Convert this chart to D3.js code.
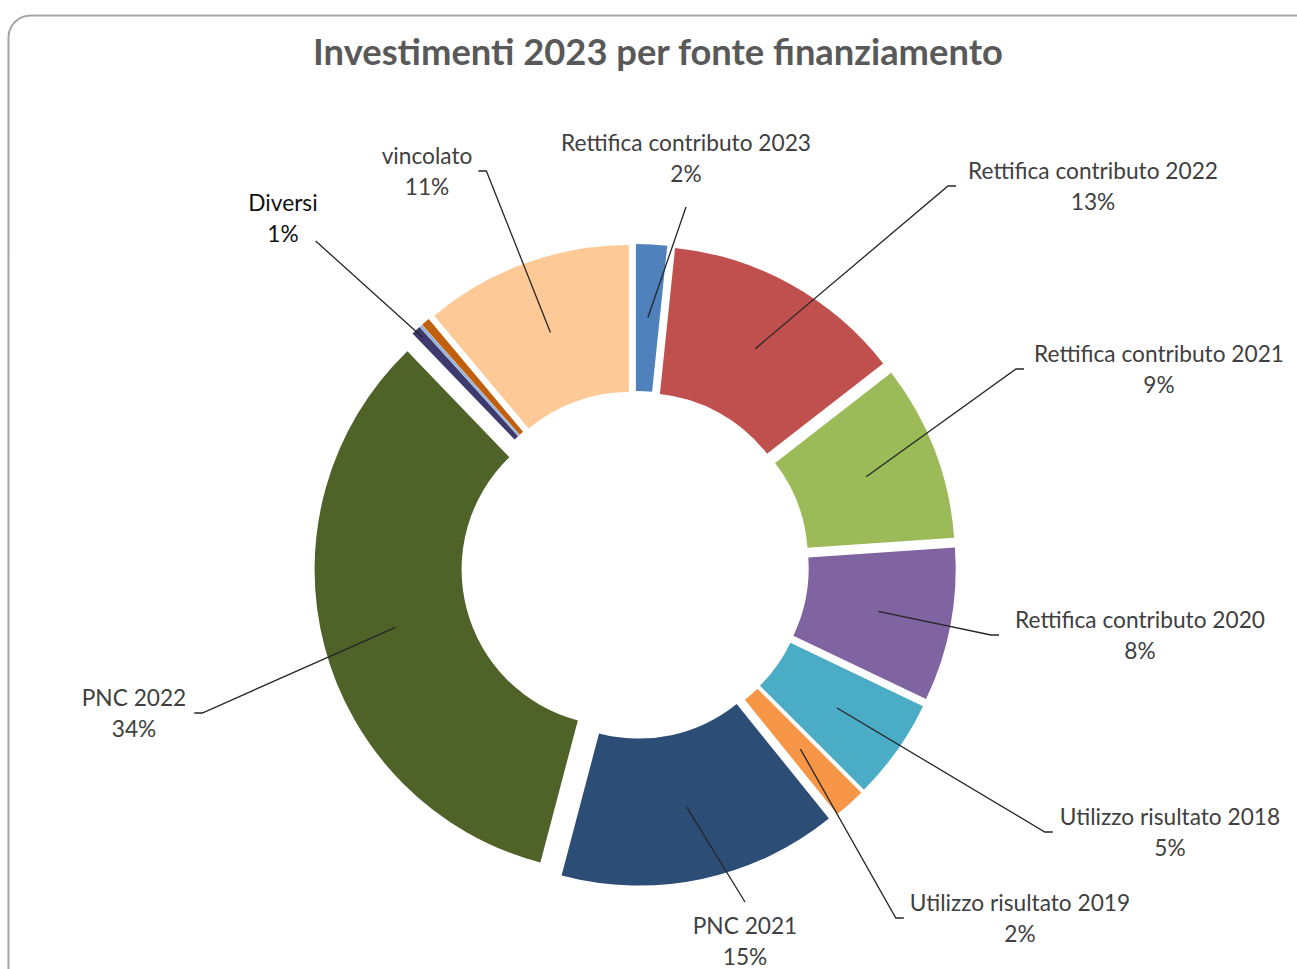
<!DOCTYPE html>
<html>
<head>
<meta charset="utf-8">
<script src="https://cdn.jsdelivr.net/npm/d3@7"></script>
<style>
  html, body { margin: 0; padding: 0; background: #fff; }
  svg { display: block; }
</style>
</head>
<body>
<script>
// data (percent of total, clockwise from 12 o'clock)
const categories = [
    `Rettifica contributo 2023`, `Rettifica contributo 2022`, `Rettifica contributo 2021`,
    `Rettifica contributo 2020`, `Utilizzo risultato 2018`, `Utilizzo risultato 2019`,
    `PNC 2021`, `PNC 2022`, `Diversi`, ``, ``, `vincolato`
];
const values = [1.65, 12.85, 9.4, 8.2, 5.4, 1.7, 14.9, 33.7, 0.5, 0.15, 0.45, 11.1];
const colors = [
    `#4F81BD`, `#C0504D`, `#9BBB59`, `#8064A2`, `#4BACC6`, `#F79646`,
    `#2C4D75`, `#4F6228`, `#3E3A6E`, `#8DB3E2`, `#C0600F`, `#FDC997`
];
// where each data label sits (block centre) and which side the leader meets
const labelLayout = [
    { x: 686, y: 158, side: `bottom`, gap: 20 },
    { x: 1093, y: 186, side: `left`, gap: 12 },
    { x: 1159, y: 369, side: `left`, gap: 10 },
    { x: 1140, y: 635, side: `left`, gap: 16 },
    { x: 1170, y: 832, side: `left`, gap: 7 },
    { x: 1020, y: 918, side: `left`, gap: 6 },
    { x: 745, y: 941, side: `top`, gap: 10 },
    { x: 134, y: 713, side: `right`, gap: 8 },
    { x: 283, y: 218, side: `corner`, gap: 0, anchor: 0.97 },
    null,
    null,
    { x: 427, y: 171, side: `right`, gap: 6 }
];

const width = 1297;
const height = 969;
const cx = 635;
const cy = 565;
const rOut = 303;
const rIn = 156;
const explode = 18;

const data = categories.map((c, i) => ({ name: c, value: values[i], color: colors[i], layout: labelLayout[i] }));

const svg = d3.select(`body`).append(`svg`)
    .attr(`width`, width)
    .attr(`height`, height);

// chart area border (runs off the right and bottom edges)
svg.append(`rect`)
    .attr(`x`, 8.5)
    .attr(`y`, 15.5)
    .attr(`width`, 1320)
    .attr(`height`, 990)
    .attr(`rx`, 22)
    .attr(`fill`, `#fff`)
    .attr(`stroke`, `#a6a6a6`)
    .attr(`stroke-width`, 2);

const title = svg.append(`text`)
    .attr(`x`, 658)
    .attr(`y`, 65)
    .attr(`text-anchor`, `middle`)
    .attr(`font-family`, `Lato, sans-serif`)
    .attr(`font-weight`, `bold`)
    .attr(`font-size`, 32)
    .attr(`fill`, `#595959`)
    .text(`Investimenti 2023 per fonte finanziamento`);
// fit title to its width in the picture
const tw = title.node().getComputedTextLength();
title.attr(`font-size`, 32 * 690 / tw);

const pie = d3.pie().sort(null).value(d => d.value);
const arcs = pie(data);
const arc = d3.arc().innerRadius(rIn).outerRadius(rOut);
const midAngle = d => (d.startAngle + d.endAngle) / 2;
const shift = d => [Math.sin(midAngle(d)) * explode, -Math.cos(midAngle(d)) * explode];

const chart = svg.append(`g`).attr(`transform`, `translate(${cx},${cy})`);

chart.selectAll(`path.slice`)
    .data(arcs)
    .join(`path`)
    .attr(`class`, `slice`)
    .attr(`d`, arc)
    .attr(`fill`, d => d.data.color)
    .attr(`transform`, d => `translate(${shift(d)})`);

// data labels
const labelled = arcs.filter(d => d.data.layout);

// measure one label to size the font like the picture
const probe = svg.append(`text`)
    .attr(`font-family`, `Lato, sans-serif`)
    .attr(`font-size`, 20)
    .text(`Rettifica contributo 2020`);
const fontSize = 20 * 250 / probe.node().getComputedTextLength();
probe.remove();

const labels = svg.selectAll(`text.lbl`)
    .data(labelled)
    .join(`text`)
    .attr(`class`, `lbl`)
    .attr(`font-family`, `Lato, sans-serif`)
    .attr(`font-size`, fontSize)
    .attr(`text-anchor`, `middle`)
    .attr(`fill`, d => d.data.name === `Diversi` ? `#111` : `#404040`);

labels.append(`tspan`)
    .attr(`x`, d => d.data.layout.x)
    .attr(`y`, d => d.data.layout.y - 15.5)
    .attr(`dominant-baseline`, `central`)
    .text(d => d.data.name);
labels.append(`tspan`)
    .attr(`x`, d => d.data.layout.x)
    .attr(`y`, d => d.data.layout.y + 15.5)
    .attr(`dominant-baseline`, `central`)
    .text(d => `${Math.round(d.data.value)}%`);

// leader lines
const leaderPoints = (d, node) => {
    const L = d.data.layout;
    const r = L.anchor !== undefined ? L.anchor * rOut : (rIn + rOut) / 2;
    const c = d3.arc().innerRadius(r).outerRadius(r).centroid(d);
    const s = shift(d);
    const start = [cx + c[0] + s[0], cy + c[1] + s[1]];
    const b = node.getBBox();
    const pts = [start];
    if (L.side === `left`) {
        const ex = b.x - L.gap;
        pts.push([ex - 8, L.y], [ex, L.y]);
    } else if (L.side === `right`) {
        const ex = b.x + b.width + L.gap;
        pts.push([ex + 8, L.y], [ex, L.y]);
    } else if (L.side === `bottom`) {
        pts.push([L.x, b.y + b.height + L.gap]);
    } else if (L.side === `top`) {
        pts.push([L.x, b.y - L.gap]);
    } else {
        pts.push([b.x + b.width - 2, b.y + b.height - 6]);
    }
    return pts;
};

labels.each(function (d) {
    svg.append(`path`)
        .attr(`d`, d3.line()(leaderPoints(d, this)))
        .attr(`fill`, `none`)
        .attr(`stroke`, `#262626`)
        .attr(`stroke-width`, 1.3);
});
</script>
</body>
</html>
